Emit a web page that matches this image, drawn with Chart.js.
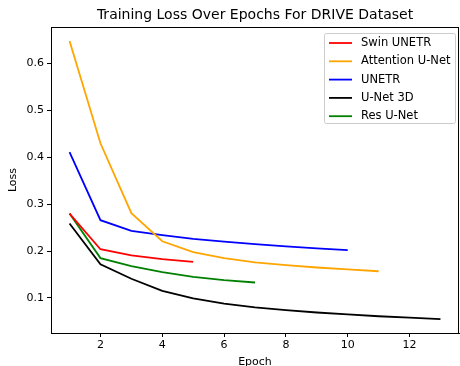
<!DOCTYPE html>
<html>
<head>
<meta charset="utf-8">
<script src="https://cdn.jsdelivr.net/npm/chart.js@4.4.0/dist/chart.umd.min.js"></script>
<style>
  html, body { margin: 0; padding: 0; overflow: hidden; background: #fff; }
  #wrap { width: 460px; height: 372px; }
</style>
</head>
<body>
<div id="wrap"><canvas id="myChart"></canvas></div>
<script>
// epochs and losses
var swinUnetr = [0.280, 0.204, 0.191, 0.183, 0.177];
var attentionUnet = [0.648, 0.430, 0.281, 0.221, 0.198, 0.185, 0.176, 0.170, 0.165, 0.161, 0.157];
var unetr = [0.411, 0.266, 0.243, 0.234, 0.226, 0.220, 0.215, 0.210, 0.206, 0.202];
var unet3d = [0.259, 0.172, 0.141, 0.115, 0.099, 0.088, 0.080, 0.074, 0.069, 0.065, 0.061, 0.058, 0.055];
var resUnet = [0.280, 0.185, 0.168, 0.155, 0.145, 0.138, 0.133];

var names = ['Swin UNETR', 'Attention U-Net', 'UNETR', 'U-Net 3D', 'Res U-Net'];
var colors = ['#ff0000', '#ffa500', '#0000ff', '#000000', '#008000'];
var series = [swinUnetr, attentionUnet, unetr, unet3d, resUnet];

function toPoints(arr) {
    return arr.map(function (v, i) { return { x: i + 1, y: v }; });
}

var font = "'DejaVu Sans', sans-serif";

// box around plot, title over the plot area, legend inside (matplotlib style)
var framePlugin = {
    id: 'frame',
    afterDraw: function (chart) {
        var c = chart.ctx, a = chart.chartArea;
        c.save();
        c.strokeStyle = '#000';
        c.lineWidth = 1;
        c.strokeRect(Math.round(a.left) + 0.5, Math.round(a.top) + 0.5,
            Math.round(a.right - a.left) - 1, Math.round(a.bottom - a.top));

        c.fillStyle = '#000';
        c.font = '14px ' + font;
        c.textAlign = 'center';
        c.textBaseline = 'middle';
        c.fillText('Training Loss Over Epochs For DRIVE Dataset', (a.left + a.right) / 2, 15);

        // legend
        var bx = 324.5, by = 33.5, bw = 131, bh = 90;
        c.fillStyle = 'rgba(255,255,255,0.8)';
        c.strokeStyle = '#cccccc';
        c.beginPath();
        c.roundRect(bx, by, bw, bh, 2);
        c.fill();
        c.stroke();
        c.font = '11.5px ' + font;
        c.textAlign = 'left';
        for (var i = 0; i < names.length; i++) {
            var yy = 43 + i * 18.3;
            c.strokeStyle = colors[i];
            c.lineWidth = 1.8;
            c.beginPath();
            c.moveTo(329, yy);
            c.lineTo(352, yy);
            c.stroke();
            c.fillStyle = '#000';
            c.fillText(names[i], 361, yy);
        }
        c.restore();
    }
};

var ctx = document.getElementById('myChart');

var myChart = new Chart(ctx, {
    type: 'line',
    data: {
        datasets: names.map(function (n, i) {
            return {
                label: n,
                data: toPoints(series[i]),
                borderColor: colors[i],
                backgroundColor: colors[i],
                borderWidth: 1.8,
                pointRadius: 0,
                tension: 0
            };
        })
    },
    options: {
        responsive: true,
        maintainAspectRatio: false,
        animation: false,
        layout: { padding: { left: 0, right: 1, top: 27, bottom: 0 } },
        plugins: {
            legend: { display: false },
            tooltip: { enabled: false },
            title: { display: false }
        },
        scales: {
            x: {
                type: 'linear',
                min: 0.4,
                max: 13.6,
                afterFit: function (s) { s.height = 39; },
                grid: { drawOnChartArea: false, tickLength: 4, color: '#000', tickColor: '#000' },
                border: { color: '#000' },
                ticks: {
                    stepSize: 2,
                    includeBounds: false,
                    color: '#000',
                    padding: 2,
                    maxRotation: 0,
                    font: { family: font, size: 11 }
                },
                title: {
                    display: true,
                    text: 'Epoch',
                    color: '#000',
                    font: { family: font, size: 11 },
                    padding: { top: 0, bottom: 3 }
                }
            },
            y: {
                min: 0.0253,
                max: 0.678,
                afterFit: function (s) { s.width = 51; },
                grid: { drawOnChartArea: false, tickLength: 4, color: '#000', tickColor: '#000' },
                border: { color: '#000' },
                ticks: {
                    stepSize: 0.1,
                    includeBounds: false,
                    color: '#000',
                    padding: 3,
                    font: { family: font, size: 11 },
                    callback: function (v) { return v.toFixed(1); }
                },
                title: {
                    display: true,
                    text: 'Loss',
                    color: '#000',
                    font: { family: font, size: 11 },
                    padding: { top: 7, bottom: 0 }
                }
            }
        }
    },
    plugins: [framePlugin]
});
</script>
</body>
</html>
